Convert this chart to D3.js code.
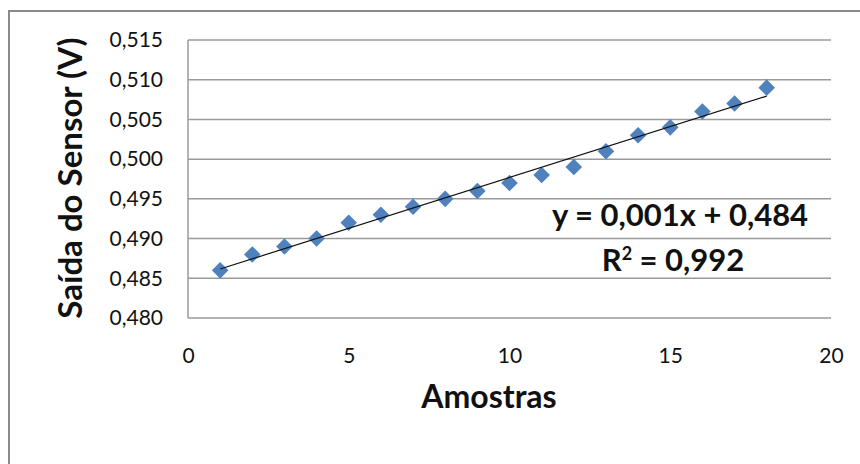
<!DOCTYPE html>
<html>
<head>
<meta charset="utf-8">
<script src="https://cdn.jsdelivr.net/npm/d3@7"></script>
<style>
  html, body { margin: 0; padding: 0; background: #fff; }
  svg { display: block; }
  text { font-family: Lato, "Open Sans", sans-serif; fill: #111; }
</style>
</head>
<body>
<svg id="chart" width="860" height="464"></svg>
<script>
// Sensor output for each sample
const amostras = [1, 2, 3, 4, 5, 6, 7, 8, 9, 10, 11, 12, 13, 14, 15, 16, 17, 18];
const saida = [0.486, 0.488, 0.489, 0.490, 0.492, 0.493, 0.494, 0.495, 0.496,
               0.497, 0.498, 0.499, 0.501, 0.503, 0.504, 0.506, 0.507, 0.509];

// Axis ticks
const xTicks = [0, 5, 10, 15, 20];
const yTicks = [0.480, 0.485, 0.490, 0.495, 0.500, 0.505, 0.510, 0.515];

// Trendline annotation text
const equationText = ["y = 0,001x + 0,484"];
const r2Value = ["0,992"];

const svg = d3.select("#chart");

// Outer chart frame (top and left edges visible)
svg.append("path")
  .attr("d", "M9,464 L9,11 L860,11")
  .attr("fill", "none")
  .attr("stroke", "#8a8a8a")
  .attr("stroke-width", 2);

const plot = { left: 188, right: 831, top: 40, bottom: 318 };

const x = d3.scaleLinear().domain([0, 20]).range([plot.left, plot.right]);
const y = d3.scaleLinear().domain([0.480, 0.515]).range([plot.bottom, plot.top]);

const fmtY = v => d3.format(".3f")(v).replace(".", ",");

// Horizontal gridlines
svg.append("g")
  .selectAll("line")
  .data(yTicks)
  .join("line")
  .attr("x1", plot.left).attr("x2", plot.right)
  .attr("y1", d => y(d)).attr("y2", d => y(d))
  .attr("stroke", "#9a9a9a")
  .attr("stroke-width", 1.5);

// Left axis line
svg.append("line")
  .attr("x1", plot.left).attr("x2", plot.left)
  .attr("y1", plot.top).attr("y2", plot.bottom)
  .attr("stroke", "#9a9a9a")
  .attr("stroke-width", 1.5);

// Y axis tick labels
const yAxis = d3.axisLeft(y).tickValues(yTicks).tickFormat(fmtY).tickSize(0).tickPadding(25);
const gy = svg.append("g").attr("transform", `translate(${plot.left},0)`).call(yAxis);
gy.select(".domain").remove();
gy.selectAll("text")
  .attr("font-size", 21)
  .attr("font-family", "Lato, sans-serif")
  .attr("fill", "#222");

// X axis tick labels
const xAxis = d3.axisBottom(x).tickValues(xTicks).tickFormat(d3.format("d")).tickSize(0).tickPadding(30);
const gx = svg.append("g").attr("transform", `translate(0,${plot.bottom})`).call(xAxis);
gx.select(".domain").remove();
gx.selectAll("text")
  .attr("font-size", 21)
  .attr("font-family", "Lato, sans-serif")
  .attr("fill", "#222");

// Least-squares trendline computed from the samples
const n = amostras.length;
const mx = d3.mean(amostras), my = d3.mean(saida);
let sxy = 0, sxx = 0;
for (let i = 0; i < n; i++) {
  sxy += (amostras[i] - mx) * (saida[i] - my);
  sxx += (amostras[i] - mx) ** 2;
}
const slope = sxy / sxx;
const intercept = my - slope * mx;
const x0 = d3.min(amostras), x1 = d3.max(amostras);

// Data points as diamonds
const diamond = d3.symbol().type(d3.symbolDiamond2).size(175);
svg.append("g")
  .selectAll("path")
  .data(amostras.map((a, i) => [a, saida[i]]))
  .join("path")
  .attr("d", diamond)
  .attr("transform", d => `translate(${x(d[0])},${y(d[1])})`)
  .attr("fill", "#4f81bd");

svg.append("line")
  .attr("x1", x(x0)).attr("y1", y(slope * x0 + intercept))
  .attr("x2", x(x1)).attr("y2", y(slope * x1 + intercept))
  .attr("stroke", "#111")
  .attr("stroke-width", 1.2);

// Equation and R² labels
svg.append("text")
  .attr("x", 680).attr("y", 226)
  .attr("text-anchor", "middle")
  .attr("font-size", 31)
  .attr("font-weight", "bold")
  .text(equationText[0]);

const r2 = svg.append("text")
  .attr("x", 673).attr("y", 271)
  .attr("text-anchor", "middle")
  .attr("font-size", 31)
  .attr("font-weight", "bold");
r2.append("tspan").text("R");
r2.append("tspan").attr("font-size", 18).attr("dy", -11).text("2");
r2.append("tspan").attr("dy", 11).text(" = " + r2Value[0]);

// Axis titles
svg.append("text")
  .attr("x", 489).attr("y", 408)
  .attr("text-anchor", "middle")
  .attr("font-size", 32)
  .attr("font-weight", "bold")
  .text("Amostras");

svg.append("text")
  .attr("transform", "translate(82,178) rotate(-90)")
  .attr("text-anchor", "middle")
  .attr("font-size", 33)
  .attr("font-weight", "bold")
  .text("Saída do Sensor (V)");
</script>
</body>
</html>
